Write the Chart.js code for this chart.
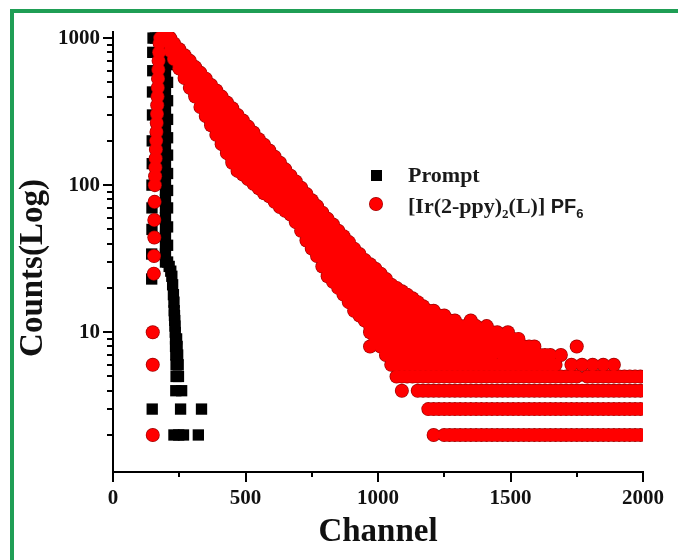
<!DOCTYPE html>
<html>
<head>
<meta charset="utf-8">
<title>Luminescence decay</title>
<script src="https://cdn.jsdelivr.net/npm/chart.js@4.4.0/dist/chart.umd.min.js"></script>
<style>
    html, body { margin: 0; padding: 0; background: #fff; }
    #wrap { position: relative; width: 678px; height: 560px; overflow: hidden; }
    #frame {
        position: absolute; left: 10px; top: 9px; right: -10px; bottom: -10px;
        border-top: 4px solid #1f9e55; border-left: 4px solid #1f9e55;
        pointer-events: none;
    }
</style>
</head>
<body>
<div id="wrap">
    <canvas id="decayChart" width="678" height="560"></canvas>
    <div id="frame"></div>
</div>
<script>
const xTickValues = [0, 500, 1000, 1500, 2000];
const yTickValues = [10, 100, 1000];

// Prompt (instrument response) - black squares
const promptChannels = [148, 146, 146, 147, 147, 147, 148, 148, 149, 149, 150, 150, 151,
    160, 170, 180, 190,
    198, 198, 198, 198, 198, 198, 198, 198, 198, 198, 198, 198, 198, 198, 198, 198, 198, 198, 198, 198, 198, 198, 198, 198, 198,
    206, 206, 206, 206, 206, 206, 206, 206, 206, 206, 206, 206, 206,
    212, 218, 222, 225, 228, 230, 231, 232, 233, 234, 235, 236, 240, 236, 242, 237, 244, 238, 246, 238, 247, 237, 259,
    255, 334, 230, 248, 266, 322];
const promptCounts = [3, 23, 34, 50, 70, 100, 140, 200, 300, 430, 600, 800, 1000,
    1000, 1000, 1000, 1000,
    870, 760, 660, 570, 500, 430, 375, 325, 280, 245, 210, 185, 160, 140, 120, 105, 92, 80, 70, 60, 52, 45, 39, 34, 30,
    870, 660, 500, 375, 280, 210, 160, 120, 92, 70, 52, 39, 30,
    28, 26, 24, 21, 18, 16, 14, 13, 12, 11, 10, 9, 9, 8, 8, 7, 7, 6, 6, 5, 5, 4, 4,
    3, 3, 2, 2, 2, 2];

// [Ir(2-ppy)2(L)]PF6 - rising edge and top of the peak (red circles)
const riseChannels = [150, 150, 150, 154, 155, 156, 156, 157, 158, 159, 160, 161, 162, 163, 164, 165, 166,
    167, 168, 169, 170, 171, 172, 174, 176, 178, 188, 198, 208];
const riseCounts = [2, 6, 10, 25, 33, 44, 58, 77, 100, 115, 132, 152, 175, 200, 230, 265, 305,
    350, 400, 460, 530, 610, 700, 800, 920, 1000, 1000, 1000, 1000];

// decay part: counts seen at each channel (spread of the noisy band)
const decayChannels = [216, 230, 250, 270, 290, 310, 330, 350, 370, 390, 410, 430, 450, 470, 490, 510, 530, 550,
    570, 590, 610, 630, 650, 670, 690, 710, 730, 750, 770, 790, 810, 830, 850, 870, 890, 910, 930, 950,
    970, 990, 1010, 1030, 1050, 1070, 1090, 1110, 1130, 1150, 1170, 1190, 1210, 1230, 1250, 1270, 1290,
    1310, 1330, 1350, 1370, 1390, 1410, 1430, 1450, 1470, 1490, 1510, 1530, 1550, 1570, 1590, 1610, 1630,
    1650, 1670, 1690, 1710, 1730, 1750, 1770, 1790, 1810, 1830, 1850, 1870, 1890, 1910, 1930, 1950, 1970, 1990];
const decayCounts = [
    [1000, 900, 820],
    [920, 810, 720],
    [840, 740, 660, 620],
    [765, 670, 590, 535],
    [700, 610, 530, 460],
    [635, 555, 480, 420, 400],
    [580, 505, 440, 385, 340],
    [530, 460, 400, 345, 295],
    [480, 415, 360, 310, 270, 255],
    [440, 380, 330, 285, 250, 220],
    [400, 345, 300, 260, 220, 190],
    [365, 315, 270, 235, 200, 165],
    [333, 285, 245, 210, 180, 150, 142],
    [300, 260, 225, 190, 165, 140, 125],
    [275, 238, 205, 175, 150, 130, 118],
    [250, 215, 185, 160, 138, 120, 110],
    [228, 197, 170, 147, 127, 110, 102],
    [205, 178, 153, 132, 115, 100, 95],
    [188, 162, 140, 121, 105, 92, 88],
    [172, 148, 128, 111, 96, 84],
    [156, 135, 117, 101, 88, 77],
    [142, 123, 107, 93, 81, 71],
    [128, 112, 98, 86, 76, 67],
    [116, 101, 89, 78, 69, 63],
    [106, 93, 81, 71, 62, 56],
    [96, 84, 73, 64, 56, 49],
    [87, 76, 66, 57, 49, 42],
    [79, 69, 60, 52, 45, 39, 37],
    [72, 62, 54, 47, 41, 36, 33],
    [65, 57, 49, 43, 37, 32, 28],
    [59, 51, 44, 38, 33, 28, 24],
    [54, 47, 41, 35, 30, 26, 22],
    [49, 43, 37, 32, 28, 24, 20],
    [45, 39, 34, 29, 25, 21, 18],
    [41, 36, 31, 27, 23, 20, 17, 16],
    [37, 32, 28, 24, 21, 18, 16, 14],
    [34, 30, 26, 22, 19, 16, 14, 13],
    [31, 27, 23, 20, 17, 15, 13, 12],
    [29, 25, 22, 19, 16, 14, 12, 11, 10, 8],
    [27, 23, 20, 17, 15, 13, 11, 10, 9],
    [25, 22, 19, 16, 14, 12, 10, 9, 8],
    [23, 20, 17, 15, 13, 11, 10, 9, 8, 7],
    [21, 18, 16, 14, 12, 10, 9, 8, 7, 6],
    [20, 17, 15, 13, 11, 10, 9, 8, 7, 6, 5],
    [19, 16, 14, 12, 11, 10, 9, 8, 7, 6, 5, 4],
    [18, 16, 14, 12, 11, 10, 9, 8, 7, 6, 5],
    [17, 15, 13, 11, 10, 9, 8, 7, 6, 5],
    [16, 14, 12, 11, 10, 9, 8, 7, 6, 5, 4],
    [15, 13, 12, 10, 9, 8, 7, 6, 5, 4],
    [14, 12, 11, 10, 9, 8, 7, 6, 5, 4, 3],
    [14, 12, 10, 9, 8, 7, 6, 5, 4, 3, 2],
    [13, 11, 10, 9, 8, 7, 6, 5, 4, 3],
    [13, 11, 10, 9, 8, 7, 6, 5, 4, 3, 2],
    [12, 11, 10, 9, 8, 7, 6, 5, 4, 3, 2],
    [12, 10, 9, 8, 7, 6, 5, 4, 3, 2],
    [11, 10, 9, 8, 7, 6, 5, 4, 3, 2],
    [11, 9, 8, 7, 6, 5, 4, 3, 2],
    [12, 10, 9, 8, 7, 6, 5, 4, 3, 2],
    [11, 10, 9, 8, 7, 6, 5, 4, 3, 2],
    [10, 9, 8, 7, 6, 5, 4, 3, 2],
    [11, 9, 8, 7, 6, 5, 4, 3, 2],
    [10, 9, 7, 6, 5, 4, 3, 2],
    [10, 9, 8, 6, 5, 4, 3, 2],
    [9, 8, 7, 6, 5, 4, 3, 2],
    [10, 9, 8, 7, 6, 5, 4, 3, 2],
    [9, 8, 7, 6, 5, 4, 3, 2],
    [9, 7, 6, 5, 4, 3, 2],
    [8, 7, 6, 5, 4, 3, 2],
    [8, 7, 6, 5, 4, 3, 2],
    [8, 7, 6, 5, 4, 3, 2],
    [7, 6, 5, 4, 3, 2],
    [7, 6, 5, 4, 3, 2],
    [7, 6, 5, 4, 3, 2],
    [6, 5, 4, 3, 2],
    [7, 5, 4, 3, 2],
    [5, 4, 3, 2],
    [6, 5, 4, 3, 2],
    [8, 5, 4, 3, 2],
    [6, 4, 3, 2],
    [5, 4, 3, 2],
    [6, 5, 4, 3, 2],
    [5, 4, 3, 2],
    [6, 5, 4, 3, 2],
    [5, 4, 3, 2],
    [6, 5, 4, 3, 2],
    [5, 4, 3, 2],
    [5, 4, 3, 2],
    [5, 4, 3, 2],
    [5, 4, 3, 2],
    [5, 4, 3, 2]
];

const serif = '"Liberation Serif", "Times New Roman", serif';
const sans = '"Liberation Sans", Arial, sans-serif';
const red = '#ff0000';
const darkRed = '#a00000';

function buildPromptPoints() {
    return promptChannels.map((c, i) => ({ x: c, y: promptCounts[i] }));
}

function buildDecayPoints() {
    const points = riseChannels.map((c, i) => ({ x: c, y: riseCounts[i] }));
    decayChannels.forEach((c, i) => {
        decayCounts[i].forEach(v => points.push({ x: c, y: v }));
    });
    return points;
}

function drawText(ctx, parts, x, y) {
    // parts: [text, font, dy]
    parts.forEach(p => {
        ctx.font = p[1];
        ctx.fillText(p[0], x, y + p[2]);
        x += ctx.measureText(p[0]).width;
    });
}

// ticks, axis titles and legend
const axisDecor = {
    id: 'axisDecor',
    afterDraw(chart) {
        const { ctx, chartArea } = chart;
        const xs = chart.scales.x;
        const ys = chart.scales.y;
        ctx.save();
        ctx.strokeStyle = '#000';
        ctx.lineWidth = 2;
        ctx.beginPath();
        for (let v = 0; v <= 2000; v += 250) {
            const px = Math.round(xs.getPixelForValue(v));
            const len = xTickValues.includes(v) ? 10 : 5;
            ctx.moveTo(px, chartArea.bottom);
            ctx.lineTo(px, chartArea.bottom + len);
        }
        for (let d = 1; d <= 1000; d *= 10) {
            for (let m = 1; m < 10; m++) {
                const v = m * d;
                if (v < ys.min || v > ys.max) continue;
                const py = Math.round(ys.getPixelForValue(v));
                const len = m === 1 ? 10 : 6;
                ctx.moveTo(chartArea.left, py);
                ctx.lineTo(chartArea.left - len, py);
            }
        }
        ctx.stroke();

        // axis titles
        ctx.fillStyle = '#111';
        ctx.textAlign = 'center';
        ctx.textBaseline = 'middle';
        ctx.font = 'bold 33px ' + serif;
        ctx.fillText('Channel', (chartArea.left + chartArea.right) / 2, 532);
        ctx.save();
        ctx.translate(33, 268);
        ctx.rotate(-Math.PI / 2);
        ctx.fillText('Counts(Log)', 0, 0);
        ctx.restore();

        // legend
        ctx.fillStyle = '#000';
        ctx.fillRect(371, 170, 11, 11);
        ctx.beginPath();
        ctx.arc(376, 204, 7, 0, Math.PI * 2);
        ctx.fillStyle = darkRed;
        ctx.fill();
        ctx.beginPath();
        ctx.arc(376, 204, 6.3, 0, Math.PI * 2);
        ctx.fillStyle = red;
        ctx.fill();

        ctx.fillStyle = '#1a1a1a';
        ctx.textAlign = 'left';
        ctx.textBaseline = 'alphabetic';
        const big = 'bold 22px ' + serif;
        const small = 'bold 13px ' + serif;
        drawText(ctx, [['Prompt', big, 0]], 408, 182);
        drawText(ctx, [
            ['[Ir(2-ppy)', big, 0],
            ['2', small, 5],
            ['(L)] ', big, 0],
            ['PF', 'bold 20px ' + sans, 0],
            ['6', 'bold 13px ' + sans, 5]
        ], 408, 213);
        ctx.restore();
    }
};

const ctx = document.getElementById('decayChart');

// lower order is drawn on top: red fill over its dark rim, prompt underneath
new Chart(ctx, {
    type: 'scatter',
    data: {
        datasets: [
            {
                label: '[Ir(2-ppy)2(L)] PF6',
                data: buildDecayPoints(),
                pointStyle: 'circle',
                pointRadius: 6.3,
                pointBackgroundColor: red,
                pointBorderWidth: 0,
                order: 0
            },
            {
                label: 'outline',
                data: buildDecayPoints(),
                pointStyle: 'circle',
                pointRadius: 7,
                pointBackgroundColor: darkRed,
                pointBorderWidth: 0,
                order: 1
            },
            {
                label: 'Prompt',
                data: buildPromptPoints(),
                pointStyle: 'rect',
                pointRadius: 8,
                pointBackgroundColor: '#000',
                pointBorderWidth: 0,
                order: 2
            }
        ]
    },
    options: {
        responsive: false,
        animation: false,
        events: [],
        layout: {
            padding: { top: 32, right: 26, left: 0, bottom: 0 }
        },
        plugins: {
            legend: { display: false },
            tooltip: { enabled: false }
        },
        scales: {
            x: {
                type: 'linear',
                min: 0,
                max: 2000,
                afterFit: function(scale) { scale.height = 88; },
                afterBuildTicks: function(scale) {
                    scale.ticks = xTickValues.map(v => ({ value: v }));
                },
                grid: { display: false, drawTicks: false },
                border: { display: true, color: '#000', width: 2 },
                ticks: {
                    color: '#111',
                    padding: 14,
                    maxRotation: 0,
                    callback: function(value) { return String(value); },
                    font: { family: serif, size: 21, weight: 'bold' }
                }
            },
            y: {
                type: 'logarithmic',
                min: 1.12,
                max: 1100,
                afterFit: function(scale) { scale.width = 113; },
                afterBuildTicks: function(scale) {
                    scale.ticks = yTickValues.map(v => ({ value: v }));
                },
                grid: { display: false, drawTicks: false },
                border: { display: true, color: '#000', width: 2 },
                ticks: {
                    color: '#111',
                    padding: 13,
                    callback: function(value) { return String(value); },
                    font: { family: serif, size: 21, weight: 'bold' }
                }
            }
        }
    },
    plugins: [axisDecor]
});
</script>
</body>
</html>
